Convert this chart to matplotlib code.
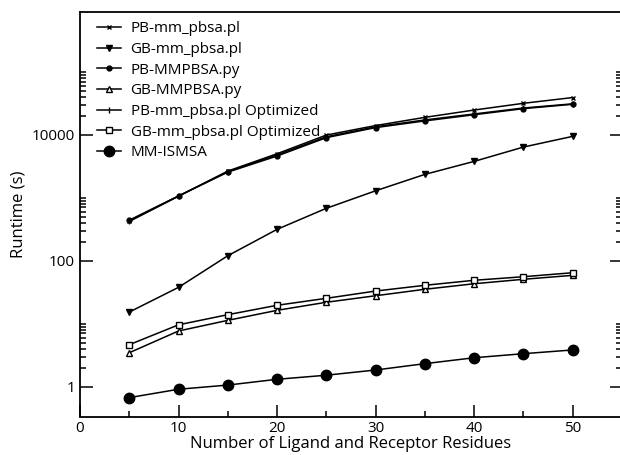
import numpy as np
import matplotlib
matplotlib.use("Agg")
import matplotlib.pyplot as plt
from matplotlib.ticker import FixedLocator, NullFormatter

plt.rcParams['font.family'] = ['Open Sans', 'DejaVu Sans']

# residue counts and runtimes (s) for each method
residues = [5, 10, 15, 20, 25, 30, 35, 40, 45, 50]
pb_mm_pbsa = [420, 1060, 2650, 5000, 9900, 14000, 18900, 24700, 31600, 39000]
gb_mm_pbsa = [15.3, 37.8, 120, 315, 680, 1290, 2350, 3780, 6380, 9440]
pb_mmpbsa_py = [440, 1070, 2550, 4600, 9000, 13000, 16600, 20800, 26000, 30500]
gb_mmpbsa_py = [3.46, 7.66, 11.3, 16.3, 21.9, 27.8, 35.2, 43.1, 50.7, 58.6]
pb_mm_pbsa_opt = [430, 1060, 2600, 4800, 9300, 13400, 17200, 21400, 26600, 31000]
gb_mm_pbsa_opt = [4.64, 9.6, 13.9, 19.6, 25.3, 33.0, 40.7, 48.9, 55.7, 64.5]
mm_ismsa = [0.67, 0.91, 1.06, 1.31, 1.52, 1.84, 2.32, 2.88, 3.34, 3.83]

fig = plt.figure(figsize=(6.2, 4.55), dpi=100)
ax = fig.add_axes([80 / 620, 38.5 / 455, 542 / 620, 404.5 / 455])

lw = 1.1
ax.plot(residues, pb_mm_pbsa, 'k-', marker='x', ms=3.5, mew=1, lw=lw, label='PB-mm_pbsa.pl')
ax.plot(residues, gb_mm_pbsa, 'k-', marker='v', ms=4.5, lw=lw, label='GB-mm_pbsa.pl')
ax.plot(residues, pb_mmpbsa_py, 'k-', marker='o', ms=3.5, lw=lw, label='PB-MMPBSA.py')
ax.plot(residues, gb_mmpbsa_py, 'k-', marker='^', ms=4.5, mfc='white', mew=1, lw=lw, label='GB-MMPBSA.py')
ax.plot(residues, pb_mm_pbsa_opt, 'k-', marker='|', ms=5, mew=1, lw=lw, label='PB-mm_pbsa.pl Optimized')
ax.plot(residues, gb_mm_pbsa_opt, 'k-', marker='s', ms=4, mfc='white', mew=1, lw=lw, label='GB-mm_pbsa.pl Optimized')
ax.plot(residues, mm_ismsa, 'k-', marker='o', ms=7.5, lw=lw, label='MM-ISMSA')

ax.set_yscale('log')
ax.set_xlim(0, 55)
ax.set_ylim(0.336, 8.9e5)

ax.set_xticks([0, 10, 20, 30, 40, 50])
ax.xaxis.set_minor_locator(FixedLocator([5, 15, 25, 35, 45, 55]))

# labelled decades every other power of ten, minor ticks only in decades 1, 100, 10^4
ax.yaxis.set_major_locator(FixedLocator([1, 100, 10000]))
ax.set_yticklabels(['1', '100', '10000'])
minor = [m * d for d in (1, 100, 10000) for m in range(2, 11)]
ax.yaxis.set_minor_locator(FixedLocator(minor))
ax.yaxis.set_minor_formatter(NullFormatter())

ax.tick_params(which='both', direction='in', left=True, right=True, top=False,
               bottom=True, labelsize=11, width=1.1)
ax.tick_params(which='major', length=9)
ax.tick_params(which='minor', length=4)

for s in ax.spines.values():
    s.set_linewidth(1.3)

ax.set_xlabel('Number of Ligand and Receptor Residues', fontsize=12, labelpad=0)
ax.set_ylabel('Runtime (s)', fontsize=12, labelpad=4)

ax.legend(loc='upper left', bbox_to_anchor=(0.02, 0.992), frameon=False,
          fontsize=11, handlelength=1.6, handletextpad=0.6, labelspacing=0.37,
          borderaxespad=0)

fig.savefig('out.png', dpi=100)
